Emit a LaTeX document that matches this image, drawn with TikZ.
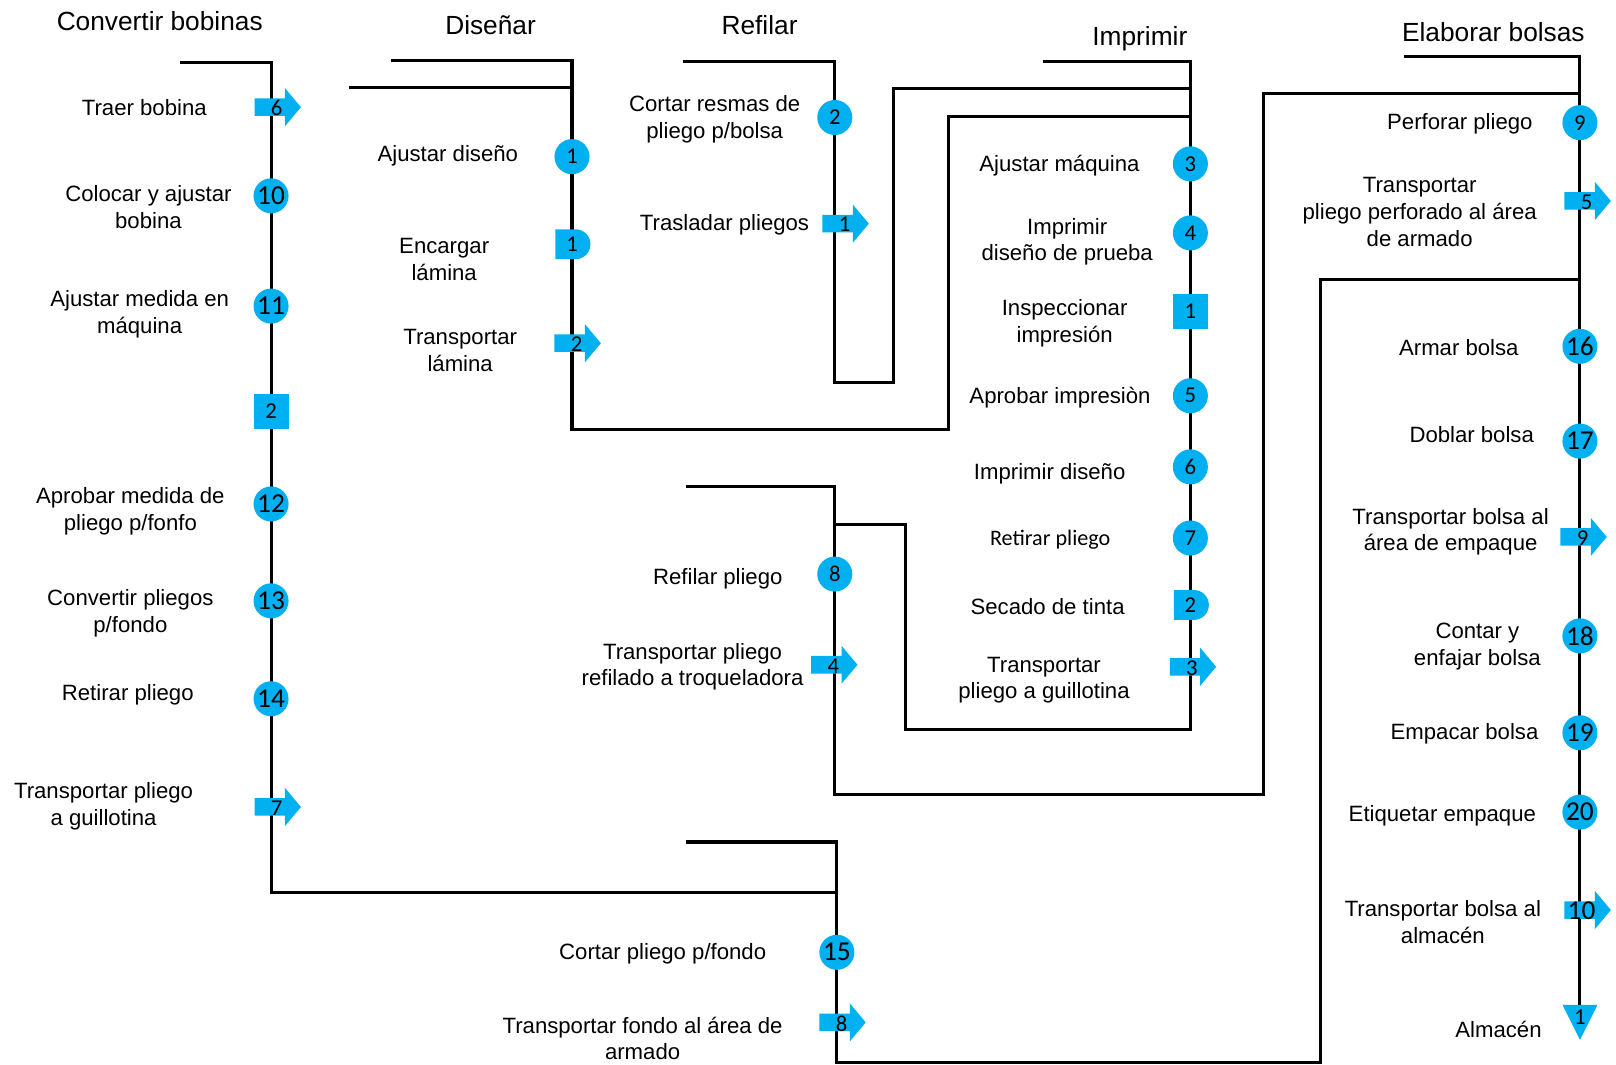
\documentclass[tikz,border=0pt]{standalone}
\usepackage{fontspec}
\setmainfont{Liberation Sans}
\newfontfamily\calfont{Carlito}
\usetikzlibrary{shapes.misc}
\definecolor{sym}{RGB}{0,176,240}
\begin{document}
\begin{tikzpicture}[x=1pt,y=-1pt,
  flow/.style={line width=3pt},
  lbl/.style={align=center, font=\fontsize{21.5pt}{26pt}\selectfont, inner sep=0pt, yshift=-2pt},
  clbl/.style={align=center, font=\calfont\fontsize{21.5pt}{26pt}\selectfont, inner sep=0pt, yshift=-2pt},
  ttl/.style={font=\fontsize{25.5pt}{30pt}\selectfont, inner sep=0pt},
  num/.style={font=\calfont\fontsize{22pt}{22pt}\selectfont, inner sep=0pt},
  bignum/.style={font=\calfont\fontsize{26.5pt}{26pt}\selectfont, inner sep=0pt},
  opcircle/.style={circle, fill=sym, minimum size=34pt, inner sep=0pt, num},
  inspbox/.style={rectangle, fill=sym, minimum size=34pt, inner sep=0pt, num},
  delaybox/.style={rounded rectangle, rounded rectangle west arc=none, fill=sym,
     minimum width=34pt, minimum height=29pt, inner sep=0pt, num},
  pics/tarrow/.style={code={
     \fill[sym] (-22.5,-8.5) -- (7,-8.5) -- (7,-18.5) -- (22.5,0) -- (7,18.5) -- (7,8.5) -- (-22.5,8.5) -- cycle;
     \node[num] (-n) at (-1,1) {#1};}},
  pics/tarrowbig/.style={code={
     \fill[sym] (-22.5,-8.5) -- (7,-8.5) -- (7,-18.5) -- (22.5,0) -- (7,18.5) -- (7,8.5) -- (-22.5,8.5) -- cycle;
     \node[bignum] (-n) at (-6,1) {#1};}},
  pics/tstore/.style={code={
     \fill[sym] (-17,0) -- (17,0) -- (0,34) -- cycle;
     \node[num] (-n) at (0,12) {#1};}},
]
\useasboundingbox (0,0) rectangle (1568,1033);

% ---------- corner coordinates ----------
\coordinate (a0) at (175,61);  \coordinate (a1) at (263,61);
\coordinate (a2) at (263,866); \coordinate (a3) at (812,866);
\coordinate (b0) at (379,59);  \coordinate (b1) at (555,59);
\coordinate (b2) at (555,417); \coordinate (b3) at (920,417);
\coordinate (b4) at (920,113); \coordinate (b5) at (1155,113);
\coordinate (b6) at (339,85);  \coordinate (b7) at (555,85);
\coordinate (c0) at (663,60);  \coordinate (c1) at (810,60);
\coordinate (c2) at (810,371); \coordinate (c3) at (867,371);
\coordinate (c4) at (867,86);  \coordinate (c5) at (1155,86);
\coordinate (d0) at (1012,60); \coordinate (d1) at (1155,60);
\coordinate (d2) at (1155,708);\coordinate (d3) at (879,708);
\coordinate (d4) at (879,509); \coordinate (d5) at (810,509);
\coordinate (e0) at (666,472); \coordinate (e1) at (810,472);
\coordinate (e2) at (810,771); \coordinate (e3) at (1226,771);
\coordinate (e4) at (1226,91); \coordinate (e5) at (1533,91);
\coordinate (f0) at (666,817); \coordinate (f1) at (812,817);
\coordinate (f2) at (812,1031);\coordinate (f3) at (1281,1031);
\coordinate (f4) at (1281,271);\coordinate (f5) at (1533,271);
\coordinate (g0) at (1362,55); \coordinate (g1) at (1533,55);
\coordinate (g2) at (1533,975);

% ---------- flow lines ----------
\draw[flow] (a0) -- (a1) -- (a2) -- (a3);
\draw[flow] (b0) -- (b1) -- (b2) -- (b3) -- (b4) -- (b5);
\draw[flow] (b6) -- (b7);
\draw[flow] (c0) -- (c1) -- (c2) -- (c3) -- (c4) -- (c5);
\draw[flow] (d0) -- (d1) -- (d2) -- (d3) -- (d4) -- (d5);
\draw[flow] (e0) -- (e1) -- (e2) -- (e3) -- (e4) -- (e5);
\draw[flow] (f0) -- (f1) -- (f2) -- (f3) -- (f4) -- (f5);
\draw[flow] (g0) -- (g1) -- (g2);

% ---------- titles ----------
\node[ttl] (t1) at (155,20) {Convertir bobinas};
\node[ttl] (t2) at (476,24) {Diseñar};
\node[ttl] (t3) at (737,24) {Refilar};
\node[ttl] (t4) at (1106,38) {Imprimir};
\node[ttl] (t5) at (1449,31) {Elaborar bolsas};

% ---------- Convertir bobinas ----------
\pic (s6) at (269.5,104) {tarrow=6};
\node[opcircle,bignum] (s10) at (263,190) {10};
\node[opcircle,bignum] (s11) at (263,297) {11};
\node[inspbox] (s2q) at (263,399) {2};
\node[opcircle,bignum] (s12) at (263,489) {12};
\node[opcircle,bignum] (s13) at (263,583) {13};
\node[opcircle,bignum] (s14) at (263,678) {14};
\pic (s7) at (269.5,783) {tarrow=7};

\node[lbl] (l1) at (140,102) {Traer bobina};
\node[lbl] (l2) at (144,199) {Colocar y ajustar\\bobina};
\node[lbl] (l3) at (135.5,303) {Ajustar medida en\\máquina};
\node[lbl] (l4) at (126.5,494) {Aprobar medida de\\pliego p/fonfo};
\node[lbl] (l5) at (126.5,593) {Convertir pliegos\\p/fondo};
\node[lbl] (l6) at (124,672) {Retirar pliego};
\node[lbl] (l7) at (100.5,780) {Transportar pliego\\a guillotina};

% ---------- Diseñar ----------
\node[opcircle] (s1c) at (555,152) {1};
\node[delaybox] (s1d) at (555,237) {1};
\pic (s2a) at (560.5,333) {tarrow=2};
\node[lbl] (l8) at (434.5,149) {Ajustar diseño};
\node[lbl] (l9) at (431,250) {Encargar\\lámina};
\node[lbl] (l10) at (446.5,338) {Transportar\\lámina};

% ---------- Refilar ----------
\node[opcircle] (s2c) at (810,114) {2};
\pic (s1a) at (820.5,217) {tarrow=1};
\node[lbl] (l11) at (693.5,113.5) {Cortar resmas de\\pliego p/bolsa};
\node[lbl] (l12) at (703,216) {Trasladar pliegos};

\node[opcircle] (s8c) at (810,557) {8};
\pic (s4a) at (809.5,645) {tarrow=4};
\node[lbl] (l13) at (696.5,560) {Refilar pliego};
\node[lbl] (l14) at (672,645) {Transportar pliego\\refilado a troqueladora};

\node[opcircle,bignum] (s15) at (812,924) {15};
\pic (s8a) at (817.5,992) {tarrow=8};
\node[lbl] (l15) at (643,923) {Cortar pliego p/fondo};
\node[lbl] (l16) at (623.5,1005.5) {Transportar fondo al área de\\armado};

% ---------- Imprimir ----------
\node[opcircle] (s3c) at (1155,159) {3};
\node[opcircle] (s4c) at (1155,226) {4};
\node[inspbox] (s1q) at (1155,302) {1};
\node[opcircle] (s5c) at (1155,384) {5};
\node[opcircle] (s6c) at (1155,453) {6};
\node[opcircle] (s7c) at (1155,522) {7};
\node[delaybox] (s2d) at (1155,587) {2};
\pic (s3a) at (1157.5,647) {tarrow=3};
\node[lbl] (l17) at (1028,159) {Ajustar máquina};
\node[lbl] (l18) at (1035.5,232.5) {Imprimir\\diseño de prueba};
\node[lbl] (l19) at (1033,311.5) {Inspeccionar\\impresión};
\node[lbl] (l20) at (1028.5,384) {Aprobar impresiòn};
\node[lbl] (l21) at (1018.5,458) {Imprimir diseño};
\node[clbl] (l22) at (1019,522) {Retirar pliego};
\node[lbl] (l23) at (1016.5,587) {Secado de tinta};
\node[lbl] (l24) at (1013,658) {Transportar\\pliego a guillotina};

% ---------- Elaborar bolsas ----------
\node[opcircle] (s9c) at (1533,119) {9};
\pic (s5a) at (1540.5,195) {tarrow=5};
\node[opcircle,bignum] (s16) at (1533,336) {16};
\node[opcircle,bignum] (s17) at (1533,428) {17};
\pic (s9a) at (1536.5,521) {tarrow=9};
\node[opcircle,bignum] (s18) at (1533,617) {18};
\node[opcircle,bignum] (s19) at (1533,711) {19};
\node[opcircle,bignum] (s20) at (1533,788) {20};
\pic (s10a) at (1540.5,883) {tarrowbig=10};
\pic (st1) at (1533,975) {tstore=1};

\node[lbl] (l25) at (1416.5,118) {Perforar pliego};
\node[lbl] (l26) at (1377.5,203.5) {Transportar\\pliego perforado al área\\de armado};
\node[lbl] (l27) at (1415.5,335) {Armar bolsa};
\node[lbl] (l28) at (1428,420) {Doblar bolsa};
\node[lbl] (l29) at (1407.5,514) {Transportar bolsa al\\área de empaque};
\node[lbl] (l30) at (1433.5,625.5) {Contar y\\enfajar bolsa};
\node[lbl] (l31) at (1421,710) {Empacar bolsa};
\node[lbl] (l32) at (1399.5,790) {Etiquetar empaque};
\node[lbl] (l33) at (1400,893) {Transportar bolsa al\\almacén};
\node[lbl] (l34) at (1454,997) {Almacén};
\end{tikzpicture}
\end{document}
